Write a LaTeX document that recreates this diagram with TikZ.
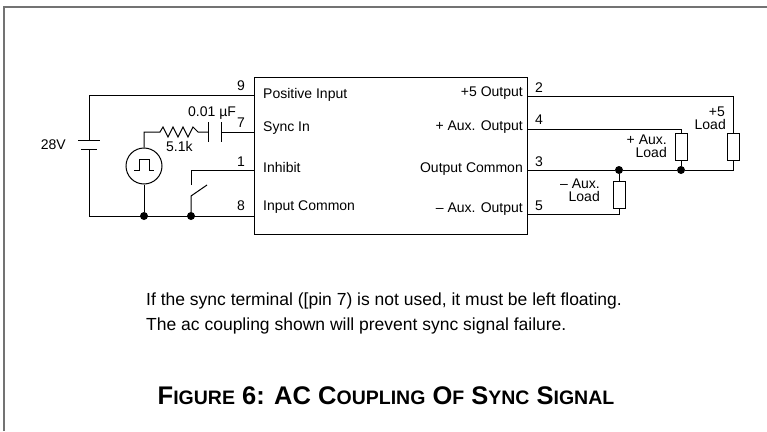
\documentclass[tikz,border=0pt]{standalone}
\usepackage{fontspec}
\setmainfont{Liberation Sans}
\newcommand\capsm[1]{{\fontsize{19.5}{20}\selectfont #1}}
\begin{document}
\begin{tikzpicture}[x=1pt,y=-1pt,
  wire/.style={line width=1pt},
  lbl/.style={font=\fontsize{14}{16}\selectfont, inner sep=0pt},
  body/.style={font=\fontsize{17.5}{20}\selectfont, inner sep=0pt},
  dot/.style={circle,fill,inner sep=0pt,minimum size=8pt},
  loadres/.style={draw,line width=1pt,minimum width=12pt,minimum height=27pt,inner sep=0pt},
  frameline/.style={draw=black!55,line width=2pt}]
\useasboundingbox (0,0) rectangle (767,431);
% frame
\coordinate (f1) at (4,431);
\coordinate (f2) at (4,7);
\coordinate (f3) at (767,7);
\draw[frameline] (f1) -- (f2) -- (f3);
% converter box
\node[draw,line width=1pt,minimum width=273pt,minimum height=157pt,anchor=north west,inner sep=0pt] (box) at (254,77) {};
% pins
\coordinate (p9) at (254,95);
\coordinate (p7) at (254,132);
\coordinate (p1) at (254,170);
\coordinate (p8) at (254,216);
\coordinate (p2) at (527,96);
\coordinate (p4) at (527,129);
\coordinate (p3) at (527,170);
\coordinate (p5) at (527,214);
% box labels
\node[lbl,anchor=base west] (lpi) at (263,98.5) {Positive Input};
\node[lbl,anchor=base west] (lsi) at (263,131.5) {Sync In};
\node[lbl,anchor=base west] (lin) at (263,172.5) {Inhibit};
\node[lbl,anchor=base west] (lic) at (263,210) {Input Common};
\node[lbl,anchor=base east] (l5o) at (523,96) {+5 Output};
\node[lbl,anchor=base east] (lao) at (523,130) {+ Aux. Output};
\node[lbl,anchor=base east] (loc) at (523,172.5) {Output Common};
\node[lbl,anchor=base east] (lmo) at (523,212.5) {\textendash{} Aux. Output};
% pin numbers
\node[lbl,anchor=base] (n9) at (241,90.5) {9};
\node[lbl,anchor=base] (n7) at (241,127) {7};
\node[lbl,anchor=base] (n1) at (241,166.5) {1};
\node[lbl,anchor=base] (n8) at (241,210) {8};
\node[lbl,anchor=base] (n2) at (539,92.5) {2};
\node[lbl,anchor=base] (n4) at (539,124) {4};
\node[lbl,anchor=base] (n3) at (539,166.5) {3};
\node[lbl,anchor=base] (n5) at (539,210) {5};
% ---- left side ----
% battery
\coordinate (bt) at (89,95);
\coordinate (bb) at (89,216);
\coordinate (bp1) at (89,140);
\coordinate (bp2) at (89,149);
\draw[wire] (p9) -- (bt) -- (bp1);
\draw[wire] (bp2) -- (bb) -- (p8);
\draw[wire] (78,140) -- (100,140);
\draw[wire] (81,149) -- (97,149);
\node[lbl,anchor=base east] (l28) at (66,149) {28V};
% pulse generator
\node[draw,circle,line width=1pt,minimum size=36pt,inner sep=0pt] (gen) at (144,166) {};
\draw[wire] (134,170) -- (139,170) -- (139,159) -- (149,159) -- (149,170) -- (154,170);
\coordinate (gtop) at (144,132);
\node[dot] (j1) at (144,216) {};
\draw[wire] (gen) -- (j1);
% resistor 5.1k and capacitor
\coordinate (r1) at (160,132);
\coordinate (r2) at (198,132);
\coordinate (c1) at (208,132);
\coordinate (c2) at (221,132);
\draw[wire] (gen.north) -- (gtop) -- (r1)
  -- (163,127) -- (168,137) -- (173,127) -- (178,137) -- (183,127) -- (188,137) -- (193,127) -- (r2) -- (c1);
\draw[wire] (208,122) -- (208,142);
\draw[wire] (221,122) -- (221,142);
\draw[wire] (c2) -- (p7);
\node[lbl,anchor=base west] (l51k) at (166,151.5) {5.1k};
\node[lbl,anchor=base west] (lcap) at (188,116.5) {0.01 µF};
% inhibit switch
\node[dot] (j2) at (191,216) {};
\coordinate (s1) at (191,196);
\coordinate (s2) at (207,185);
\coordinate (s3) at (191,185);
\coordinate (s4) at (191,170);
\draw[wire] (j2) -- (s1) -- (s2);
\draw[wire] (s3) -- (s4) -- (p1);
% ---- right side ----
\node[loadres] (r5) at (733,146.5) {};
\node[loadres] (rpa) at (681,146.5) {};
\node[loadres] (rma) at (619,195) {};
\node[dot] (j3) at (619,170) {};
\node[dot] (j4) at (681,170) {};
\coordinate (c5t) at (733,96);
\coordinate (c5b) at (733,170);
\coordinate (cpat) at (681,129);
\coordinate (cmab) at (619,214);
\draw[wire] (p2) -- (c5t) -- (r5.north);
\draw[wire] (r5.south) -- (c5b) -- (j4) -- (j3) -- (p3);
\draw[wire] (p4) -- (cpat) -- (rpa.north);
\draw[wire] (rpa.south) -- (j4);
\draw[wire] (p5) -- (cmab) -- (rma.south);
\draw[wire] (rma.north) -- (j3);
\node[lbl,anchor=base east] (t5a) at (725,116.5) {+5};
\node[lbl,anchor=base east] (t5b) at (726,129.5) {Load};
\node[lbl,anchor=base east] (tpa) at (667,144) {+ Aux.};
\node[lbl,anchor=base east] (tpb) at (667,157.5) {Load};
\node[lbl,anchor=base east] (tma) at (600,188.5) {\textendash{} Aux.};
\node[lbl,anchor=base east] (tmb) at (600,201.5) {Load};
% notes
\node[body,anchor=base west] (note1) at (146,305.5) {If the sync terminal ([pin 7) is not used, it must be left floating.};
\node[body,anchor=base west] (note2) at (146,330.5) {The ac coupling shown will prevent sync signal failure.};
\node[inner sep=0pt,anchor=base,font=\bfseries\fontsize{25.5}{27}\selectfont] (cap) at (386,404)
  {F\capsm{IGURE} 6: AC C\capsm{OUPLING} O\capsm{F} S\capsm{YNC} S\capsm{IGNAL}};
\end{tikzpicture}
\end{document}
